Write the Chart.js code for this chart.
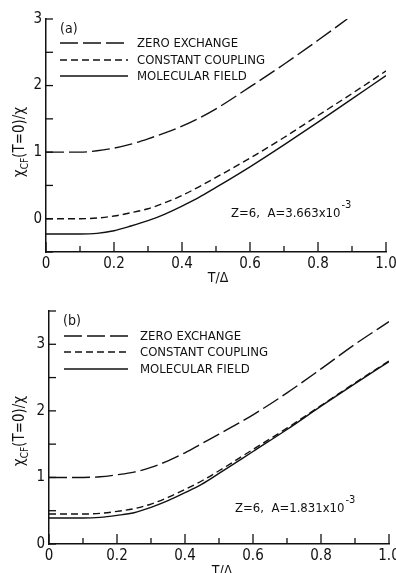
<!DOCTYPE html>
<html>
<head>
<meta charset="utf-8">
<script src="https://cdn.jsdelivr.net/npm/chart.js@4.4.0/dist/chart.umd.min.js"></script>
<style>
  html, body { margin: 0; padding: 0; background: #fff; }
  #wrap { position: relative; width: 396px; height: 573px; overflow: hidden; }
  .panel { position: absolute; left: 0; width: 396px; }
</style>
</head>
<body>
<div id="wrap">
  <div class="panel" style="top:0;height:290px"><canvas id="chartA"></canvas></div>
  <div class="panel" style="top:290px;height:283px"><canvas id="chartB"></canvas></div>
</div>
<script>
// --- data (T/Δ on x, χCF(T=0)/χ on y) ---
const temps      = [0, 0.05, 0.1, 0.15, 0.2, 0.25, 0.3, 0.35, 0.4, 0.45, 0.5, 0.6, 0.7, 0.8, 0.9, 1.0];
const tempsZeroA = [0, 0.05, 0.1, 0.15, 0.2, 0.25, 0.3, 0.35, 0.4, 0.45, 0.5, 0.6, 0.7, 0.8, 0.886];

// panel (a)
const zeroExchangeA   = [1.0, 1.0, 1.0, 1.02, 1.06, 1.12, 1.2, 1.29, 1.39, 1.51, 1.65, 1.98, 2.32, 2.68, 3.0];
const constCouplingA  = [0, 0, 0, 0.01, 0.04, 0.09, 0.15, 0.24, 0.35, 0.48, 0.62, 0.91, 1.22, 1.55, 1.88, 2.22];
const molecularFieldA = [-0.23, -0.23, -0.23, -0.22, -0.18, -0.11, -0.03, 0.07, 0.19, 0.32, 0.47, 0.78, 1.11, 1.45, 1.8, 2.15];

// panel (b)
const zeroExchangeB   = [1.0, 1.0, 1.0, 1.01, 1.04, 1.08, 1.15, 1.25, 1.37, 1.51, 1.65, 1.94, 2.27, 2.63, 3.0, 3.34];
const constCouplingB  = [0.45, 0.45, 0.45, 0.46, 0.49, 0.53, 0.6, 0.7, 0.82, 0.95, 1.1, 1.42, 1.74, 2.08, 2.42, 2.75];
const molecularFieldB = [0.39, 0.39, 0.39, 0.4, 0.43, 0.47, 0.55, 0.65, 0.77, 0.9, 1.06, 1.39, 1.72, 2.07, 2.41, 2.74];

const seriesLabels = ['ZERO EXCHANGE', 'CONSTANT COUPLING', 'MOLECULAR FIELD'];
const xTickLabels  = ['0', '0.2', '0.4', '0.6', '0.8', '1.0'];
const yTickLabels  = ['0', '1', '2', '3'];

const FONT = '"Liberation Sans Narrow", "DejaVu Sans Condensed", "Roboto Condensed", sans-serif';
const INK = '#111';
const dashes = [[18, 5], [7, 4], []];

const pts = (ts, ys) => ts.map((t, i) => ({ x: t, y: ys[i] }));

// ticks pointing into the plot, legend, labels, notes
const paperDeco = {
    id: 'paperDeco',
    afterDraw(chart, args, o) {
        const ctx = chart.ctx;
        const { left, bottom } = chart.chartArea;
        const xs = chart.scales.x, ys = chart.scales.y;
        ctx.save();
        ctx.strokeStyle = INK;
        ctx.fillStyle = INK;
        ctx.lineWidth = 1.3;

        xs.ticks.forEach((tk, i) => {
            const px = xs.getPixelForValue(tk.value);
            const len = i % 2 === 0 ? 10 : 6;
            ctx.beginPath(); ctx.moveTo(px, bottom); ctx.lineTo(px, bottom - len); ctx.stroke();
        });
        ys.ticks.forEach(tk => {
            const py = ys.getPixelForValue(tk.value);
            ctx.beginPath(); ctx.moveTo(left, py); ctx.lineTo(left + 7, py); ctx.stroke();
        });

        // legend
        ctx.font = '13px ' + FONT;
        ctx.textBaseline = 'middle';
        ctx.textAlign = 'left';
        seriesLabels.forEach((lab, i) => {
            const y = o.legendY[i];
            ctx.setLineDash(dashes[i]);
            ctx.beginPath(); ctx.moveTo(o.legendX0, y); ctx.lineTo(o.legendX1, y); ctx.stroke();
            ctx.setLineDash([]);
            ctx.fillText(lab, o.legendText, y + 1);
        });

        // panel tag
        ctx.font = '14px ' + FONT;
        ctx.fillText(o.tag, o.tagX, o.tagY);

        // parameter note with superscript
        ctx.font = '13px ' + FONT;
        ctx.textBaseline = 'alphabetic';
        const main = 'Z=6,  A=' + o.aValue + 'x10';
        ctx.fillText(main, o.noteX, o.noteY);
        const w = ctx.measureText(main).width;
        ctx.font = '11px ' + FONT;
        ctx.fillText('-3', o.noteX + w + 1, o.noteY - 9);

        // x title
        ctx.font = '14px ' + FONT;
        ctx.textAlign = 'center';
        ctx.textBaseline = 'middle';
        ctx.fillText('T/Δ', o.xTitleX, o.xTitleY);

        // y title, rotated, with CF subscript
        ctx.translate(o.yTitleX, o.yTitleY);
        ctx.rotate(-Math.PI / 2);
        ctx.textAlign = 'left';
        const big = '15px ' + FONT, small = '10px ' + FONT;
        ctx.font = big; const w1 = ctx.measureText('χ').width;
        ctx.font = small; const w2 = ctx.measureText('CF').width;
        ctx.font = big; const w3 = ctx.measureText('(T=0)/χ').width;
        let x = -(w1 + w2 + w3) / 2;
        ctx.font = big; ctx.fillText('χ', x, 0); x += w1;
        ctx.font = small; ctx.fillText('CF', x, 5); x += w2;
        ctx.font = big; ctx.fillText('(T=0)/χ', x, 0);
        ctx.restore();
    }
};

function buildChart(id, cfg) {
    const sets = cfg.series.map((s, i) => ({
        label: seriesLabels[i],
        data: pts(s.t, s.y),
        borderColor: INK,
        borderWidth: 1.4,
        borderDash: dashes[i],
        pointRadius: 0,
        fill: false,
        cubicInterpolationMode: 'monotone'
    }));
    return new Chart(document.getElementById(id), {
        type: 'line',
        data: { datasets: sets },
        options: {
            responsive: true,
            maintainAspectRatio: false,
            animation: false,
            layout: { padding: { top: cfg.padTop, right: cfg.padRight, left: 0, bottom: 0 } },
            plugins: { legend: { display: false }, tooltip: { enabled: false }, paperDeco: cfg.deco },
            scales: {
                x: {
                    type: 'linear', min: 0, max: 1,
                    grid: { display: false, drawTicks: false },
                    border: { display: true, color: INK, width: 1.5 },
                    ticks: {
                        stepSize: 0.1, autoSkip: false, maxRotation: 0, padding: 3,
                        color: INK, font: { family: FONT, size: 15 },
                        callback: (v, i) => (i % 2 === 0 ? xTickLabels[i / 2] : '')
                    },
                    afterFit: s => { s.height = cfg.xAxisH; s.paddingLeft = 0; s.paddingRight = 0; }
                },
                y: {
                    min: cfg.yMin, max: cfg.yMax,
                    grid: { display: false, drawTicks: false },
                    border: { display: true, color: INK, width: 1.5 },
                    ticks: {
                        stepSize: 0.5, padding: 4,
                        color: INK, font: { family: FONT, size: 15 },
                        callback: v => (Number.isInteger(v) ? yTickLabels[v] : '')
                    },
                    afterFit: s => { s.width = cfg.yAxisW; s.paddingTop = 0; s.paddingBottom = 0; }
                }
            }
        },
        plugins: [paperDeco]
    });
}

buildChart('chartA', {
    series: [
        { t: tempsZeroA, y: zeroExchangeA },
        { t: temps, y: constCouplingA },
        { t: temps, y: molecularFieldA }
    ],
    yMin: -0.5, yMax: 3, padTop: 19, padRight: 10, xAxisH: 38, yAxisW: 46,
    deco: {
        tag: '(a)', tagX: 60, tagY: 29,
        legendX0: 60, legendX1: 128, legendText: 137, legendY: [43, 60, 76],
        aValue: '3.663', noteX: 231, noteY: 217,
        xTitleX: 218, xTitleY: 278,
        yTitleX: 20, yTitleY: 142
    }
});

buildChart('chartB', {
    series: [
        { t: temps, y: zeroExchangeB },
        { t: temps, y: constCouplingB },
        { t: temps, y: molecularFieldB }
    ],
    yMin: 0, yMax: 3.5, padTop: 21, padRight: 7, xAxisH: 29, yAxisW: 49,
    deco: {
        tag: '(b)', tagX: 63, tagY: 31,
        legendX0: 64, legendX1: 128, legendText: 140, legendY: [46, 62, 79],
        aValue: '1.831', noteX: 235, noteY: 222,
        xTitleX: 222, xTitleY: 281,
        yTitleX: 20, yTitleY: 141
    }
});
</script>
</body>
</html>
